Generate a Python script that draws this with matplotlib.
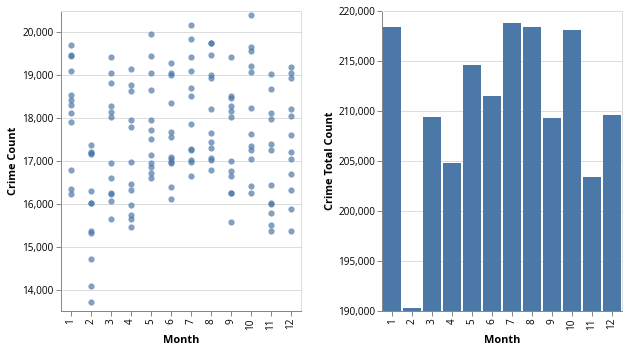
"""
Monthly crime counts: one dot per year for each month, and the monthly totals
"""
import matplotlib.pyplot as plt
from matplotlib.ticker import StrMethodFormatter

plt.rcParams['font.family'] = ['Open Sans', 'DejaVu Sans']

# Data
months = [1, 2, 3, 4, 5, 6, 7, 8, 9, 10, 11, 12]

jan = [19713, 19473, 19457, 19109, 18535, 18434, 18318, 18116, 17899, 16791, 16341, 16240]
feb = [17372, 17202, 17180, 17155, 16295, 16031, 16020, 15357, 15320, 14705, 14093, 13713]
mar = [19426, 19047, 18822, 18287, 18140, 18016, 16961, 16612, 16248, 16225, 16078, 15636]
apr = [19147, 18767, 18636, 17946, 17783, 16969, 16457, 16318, 15969, 15744, 15636, 15465]
may = [19953, 19457, 19062, 18667, 17953, 17729, 17504, 17147, 16961, 16853, 16729, 16612]
jun = [19287, 19062, 19016, 18357, 17682, 17558, 17085, 17039, 16984, 16946, 16395, 16124]
jul = [20178, 19845, 19426, 19093, 18705, 18512, 17868, 17287, 17256, 17023, 16984, 16651]
aug = [19744, 19744, 19481, 19016, 18938, 18209, 17659, 17442, 17310, 17078, 17023, 16791]
sep = [19426, 18512, 18473, 18295, 18163, 18016, 16992, 16775, 16643, 16256, 16256, 15574]
oct_ = [20411, 19659, 19558, 19209, 19078, 18233, 17628, 17349, 17248, 17039, 16426, 16256]
nov = [19023, 18682, 18109, 17984, 17395, 17256, 16434, 16031, 16000, 15791, 15504, 15364]
dec = [19202, 19047, 18938, 18225, 18047, 17612, 17209, 17039, 16705, 16326, 15884, 15364]
crime_counts = [jan, feb, mar, apr, may, jun, jul, aug, sep, oct_, nov, dec]

# Totals per month (right chart)
crime_totals = [218367, 190270, 209433, 204767, 214567, 211467,
                218800, 218367, 209300, 218067, 203400, 209567]

blue = '#4c78a8'
px = 0.72  # one pixel in points at dpi 100


def style_axes(ax, ylim, yticks):
    ax.set_xlim(0.5, 12.5)
    ax.set_ylim(*ylim)
    ax.set_xticks(months)
    ax.set_xticklabels([str(m) for m in months], rotation=90, va='top', ha='center')
    ax.set_yticks(yticks)
    ax.yaxis.set_major_formatter(StrMethodFormatter('{x:,.0f}'))
    ax.tick_params(length=5 * px, width=px, color='#888888', pad=2 * px,
                   labelsize=10 * px, labelcolor='#000000')
    ax.grid(axis='y', color='#dddddd', linewidth=px)
    ax.set_axisbelow(True)
    for side in ['left', 'bottom']:
        ax.spines[side].set_color('#888888')
        ax.spines[side].set_linewidth(px)
    for side in ['top', 'right']:
        ax.spines[side].set_color('#dddddd')
        ax.spines[side].set_linewidth(px)
    ax.set_xlabel('Month', fontsize=11 * px, fontweight='bold', labelpad=4)


fig = plt.figure(figsize=(6.28, 3.51), dpi=100)

# Left: scatter of each year's count
ax1 = fig.add_axes([60.7 / 628, 1 - 311 / 351, 240 / 628, 300 / 351])
for m, vals in zip(months, crime_counts):
    ax1.scatter([m] * len(vals), vals, s=20, color=blue, alpha=0.7, linewidths=0)
style_axes(ax1, (13500, 20500), range(14000, 20001, 1000))
ax1.set_ylabel('Crime Count', fontsize=11 * px, fontweight='bold')
ax1.yaxis.set_label_coords(-0.1725, 0.5)

# Right: totals
ax2 = fig.add_axes([382.3 / 628, 1 - 311 / 351, 239.4 / 628, 300 / 351])
ax2.bar(months, crime_totals, width=0.92, color=blue)
style_axes(ax2, (190000, 220000), range(190000, 220001, 5000))
ax2.set_ylabel('Crime Total Count', fontsize=11 * px, fontweight='bold')
ax2.yaxis.set_label_coords(-0.194, 0.5)

fig.savefig('out.png', dpi=100)
